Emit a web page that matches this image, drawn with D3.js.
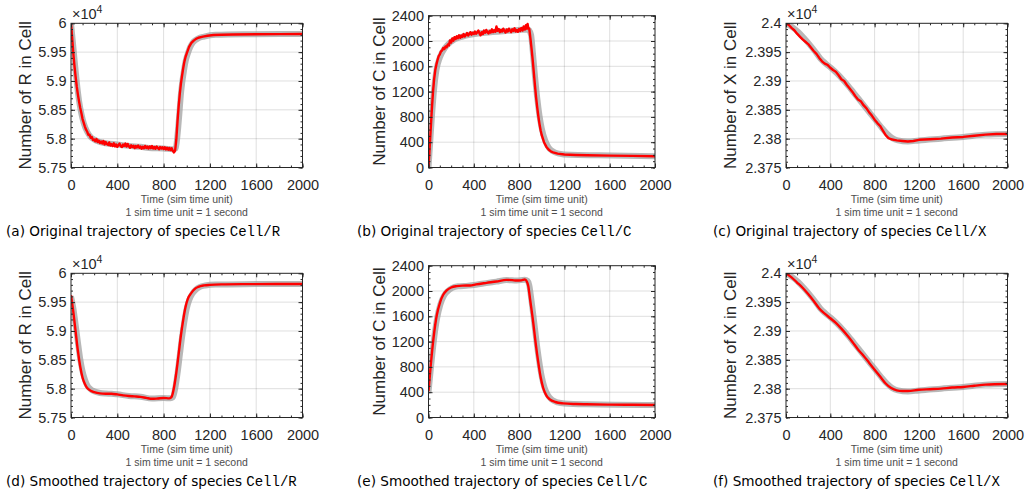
<!DOCTYPE html>
<html>
<head>
<meta charset="utf-8">
<script src="https://cdn.jsdelivr.net/npm/d3@7"></script>
<style>
  body { margin: 0; background: #fff; }
  svg { display: block; }
  .tick text { font-family: "Liberation Sans", Arial, sans-serif; font-size: 14.5px; fill: #262626; }
  .ylab { font-family: "Liberation Sans", Arial, sans-serif; font-size: 17px; fill: #262626; }
  .xlab { font-family: "Liberation Sans", Arial, sans-serif; font-size: 10.5px; fill: #4d4d4d; }
  .cap { font-family: "DejaVu Sans", sans-serif; font-size: 13.6px; fill: #000; }
  .cap .tt { font-family: "Liberation Mono", "DejaVu Sans Mono", monospace; font-size: 14px; }
</style>
</head>
<body>
<svg id="svg" width="1028" height="497"></svg>
<script>
// ---- data (time in sim time units, counts of molecules) ----
var xTicks = [0, 400, 800, 1200, 1600, 2000];
var rTicks = [57500, 58000, 58500, 59000, 59500, 60000];
var cTicks = [0, 400, 800, 1200, 1600, 2000, 2400];
var xSpTicks = [23750, 23800, 23850, 23900, 23950, 24000];

// (a) original R, red
var rawRTime = [0, 10, 20, 30, 40, 50, 60, 70, 80, 90, 100, 110, 120, 130, 140, 150, 160, 170, 180, 190,
  200, 210, 220, 230, 240, 250, 260, 270, 280, 290, 300, 310, 320, 330, 340, 350, 360, 370, 380, 390,
  400, 410, 420, 430, 440, 450, 460, 470, 480, 490, 500, 510, 520, 530, 540, 550, 560, 570, 580, 590,
  600, 610, 620, 630, 640, 650, 660, 670, 680, 690, 700, 710, 720, 730, 740, 750, 760, 770, 780, 790,
  800, 810, 820, 830, 840, 850, 860, 870, 880, 890, 895, 900, 910, 920, 930, 940, 950, 960, 970, 980,
  990, 1000, 1020, 1040, 1060, 1080, 1100, 1140, 1180, 1230, 1300, 1400, 1600, 1800, 2000];
var rawRVal = [60000, 59750, 59480, 59260, 59070, 58900, 58760, 58640, 58530, 58440, 58340, 58275, 58210, 58155, 58120, 58065, 58070, 58015, 58030, 57975,
  57985, 57955, 57995, 57940, 57966, 57925, 57952, 57918, 57960, 57900, 57942, 57908, 57892, 57935, 57880, 57906, 57872, 57920, 57866, 57897,
  57858, 57889, 57914, 57867, 57854, 57899, 57874, 57916, 57862, 57908, 57868, 57842, 57884, 57854, 57878, 57836, 57872, 57848, 57881, 57841,
  57864, 57825, 57860, 57834, 57874, 57838, 57862, 57829, 57866, 57836, 57872, 57831, 57856, 57824, 57863, 57838, 57816, 57854, 57828, 57852,
  57821, 57850, 57814, 57844, 57808, 57839, 57802, 57832, 57786, 57762, 57775, 57800, 57990, 58290, 58560, 58780, 58960, 59100, 59230, 59340,
  59420, 59480, 59590, 59660, 59700, 59730, 59750, 59770, 59785, 59797, 59802, 59806, 59810, 59812, 59814];
var rawRGrayTime = [0, 15, 30, 50, 70, 90, 110, 140, 170, 200, 300, 400, 500, 600, 700, 800, 880, 905, 920, 935,
  950, 960, 970, 990, 1010, 1030, 1050, 1070, 1100, 1150, 1250, 1500, 2000];
var rawRGrayVal = [60000, 59700, 59380, 58980, 58650, 58430, 58270, 58120, 58030, 57985, 57920, 57900, 57875, 57858, 57835, 57830, 57815, 57830, 58060, 58400,
  58780, 58960, 59100, 59340, 59480, 59590, 59660, 59700, 59740, 59770, 59800, 59810, 59815];

// (b) original C
var rawCTime = [0, 10, 20, 30, 40, 50, 60, 70, 80, 90, 100, 110, 120, 130, 140, 150, 160, 170, 180, 190,
  200, 210, 220, 230, 240, 250, 260, 270, 280, 290, 300, 310, 320, 330, 340, 350, 360, 370, 380, 390,
  400, 410, 420, 430, 440, 450, 460, 470, 480, 490, 500, 510, 520, 530, 540, 550, 560, 570, 580, 590,
  600, 610, 620, 630, 640, 650, 660, 670, 680, 690, 700, 710, 720, 730, 740, 750, 760, 770, 780, 790,
  800, 810, 820, 830, 840, 850, 860, 870, 875, 880, 890, 900, 910, 920, 930, 940, 950, 960, 970, 980,
  990, 1000, 1020, 1040, 1060, 1080, 1100, 1140, 1200, 1300, 1400, 1600, 1800, 2000];
var rawCVal = [0, 300, 620, 930, 1200, 1400, 1540, 1630, 1700, 1760, 1790, 1835, 1850, 1890, 1872, 1915, 1900, 1945, 1930, 2010,
  1975, 2040, 2005, 2060, 2030, 2075, 2045, 2090, 2050, 2085, 2065, 2110, 2070, 2095, 2125, 2085, 2110, 2140, 2100, 2130,
  2110, 2150, 2115, 2135, 2165, 2120, 2090, 2140, 2110, 2165, 2130, 2175, 2140, 2120, 2160, 2135, 2185, 2140, 2170, 2145,
  2230, 2160, 2190, 2140, 2175, 2150, 2195, 2160, 2135, 2180, 2150, 2195, 2165, 2140, 2185, 2160, 2200, 2150, 2175, 2145,
  2190, 2160, 2205, 2165, 2230, 2180, 2250, 2195, 2270, 2215, 2190, 2040, 1880, 1700, 1500, 1300, 1110, 950, 810, 690,
  590, 510, 400, 330, 285, 255, 240, 220, 205, 198, 193, 188, 183, 179];
var rawCGrayTime = [0, 15, 30, 50, 70, 100, 150, 200, 300, 500, 700, 880, 905, 920, 940, 960, 980, 1000, 1030, 1060,
  1100, 1150, 1250, 1500, 2000];
var rawCGrayVal = [0, 400, 800, 1250, 1540, 1740, 1900, 1990, 2070, 2130, 2160, 2180, 2100, 1850, 1450, 1100, 820, 620, 430, 320,
  255, 220, 200, 192, 179];

// (c) original X
var rawXTime = [0, 25, 50, 75, 100, 125, 150, 175, 200, 225, 250, 275, 300, 325, 350, 375, 400, 425, 450, 475,
  500, 525, 550, 575, 600, 625, 650, 675, 700, 725, 750, 775, 800, 825, 850, 875, 900, 925, 950, 975,
  1000, 1050, 1100, 1150, 1200, 1300, 1400, 1500, 1600, 1700, 1800, 1900, 2000];
var rawXVal = [24000, 23997, 23992, 23988, 23982, 23977, 23972, 23968, 23964, 23958, 23952, 23947, 23940, 23934, 23930, 23928, 23923, 23919, 23916, 23910,
  23903, 23900, 23893, 23887, 23881, 23874, 23868, 23865, 23858, 23853, 23846, 23840, 23833, 23827, 23822, 23814, 23806, 23801, 23799, 23798,
  23797, 23796, 23795, 23796, 23798, 23799, 23800, 23802, 23803, 23805, 23807, 23808, 23808];
var grayXTime = [0, 60, 110, 160, 210, 260, 310, 360, 410, 460, 510, 560, 610, 660, 710, 760, 810, 860, 910, 960,
  1010, 1100, 1200, 1400, 1600, 1800, 2000];
var grayXVal = [24000, 23993, 23985, 23975, 23964, 23952, 23939, 23930, 23922, 23913, 23903, 23892, 23880, 23868, 23856, 23844, 23832, 23820, 23809, 23801,
  23797, 23795, 23797, 23800, 23803, 23807, 23808];

// (d) smoothed R
var smRTime = [0, 20, 40, 60, 80, 100, 120, 140, 170, 200, 250, 300, 350, 400, 450, 500, 550, 600, 650, 700,
  750, 800, 850, 870, 890, 910, 930, 950, 970, 990, 1010, 1040, 1070, 1100, 1150, 1200, 1300, 1500, 2000];
var smRVal = [59620, 59330, 58990, 58650, 58380, 58190, 58080, 58010, 57965, 57940, 57918, 57913, 57912, 57900, 57883, 57872, 57866, 57858, 57840, 57824,
  57830, 57838, 57832, 57860, 58020, 58280, 58600, 58930, 59200, 59420, 59560, 59660, 59730, 59765, 59790, 59800, 59808, 59812, 59815];
var smRGrayTime = [0, 20, 40, 60, 80, 100, 120, 140, 170, 200, 250, 300, 350, 400, 500, 600, 700, 800, 860, 880,
  900, 920, 940, 960, 980, 1000, 1020, 1050, 1080, 1110, 1160, 1250, 1500, 2000];
var smRGrayVal = [59600, 59400, 59110, 58800, 58510, 58300, 58160, 58060, 57990, 57955, 57925, 57915, 57912, 57902, 57874, 57860, 57828, 57838, 57832, 57850,
  58000, 58260, 58580, 58900, 59170, 59390, 59530, 59650, 59720, 59760, 59788, 59805, 59812, 59815];

// (e) smoothed C
var smCTime = [0, 20, 44, 73, 103, 130, 161, 200, 249, 300, 367, 420, 513, 600, 689, 740, 777, 820, 851, 868,
  880, 900, 924, 946, 968, 990, 1012, 1040, 1071, 1120, 1188, 1300, 1393, 1600, 1800, 2000];
var smCVal = [417, 830, 1252, 1617, 1826, 1940, 2009, 2055, 2077, 2085, 2087, 2105, 2129, 2150, 2176, 2172, 2165, 2168, 2181, 2150,
  2087, 1830, 1513, 1180, 887, 640, 470, 350, 287, 245, 224, 213, 209, 204, 201, 198];
var smCGrayTime = [0, 20, 45, 75, 105, 135, 165, 210, 260, 350, 420, 510, 600, 690, 780, 850, 875, 890, 910, 935,
  958, 980, 1002, 1025, 1055, 1090, 1140, 1200, 1400, 2000];
var smCGrayVal = [400, 760, 1180, 1560, 1790, 1920, 1990, 2050, 2075, 2085, 2100, 2125, 2148, 2172, 2165, 2178, 2160, 2090, 1840, 1480,
  1140, 860, 630, 470, 350, 280, 240, 222, 209, 198];

// (f) smoothed X
var smXTime = [0, 50, 100, 150, 200, 250, 300, 350, 400, 450, 500, 550, 600, 650, 700, 750, 800, 850, 900, 950,
  1000, 1050, 1100, 1200, 1300, 1400, 1500, 1600, 1700, 1800, 2000];
var smXVal = [24000, 23993, 23984, 23975, 23964, 23952, 23939, 23930, 23922, 23914, 23904, 23893, 23881, 23868, 23857, 23845, 23833, 23821, 23809, 23801,
  23797, 23796, 23796, 23798, 23799, 23800, 23802, 23803, 23805, 23807, 23808];

function pts(t, v) { return t.map(function(d, i) { return [d, v[i]]; }); }

var species = {
  R: { ticks: rTicks, exp: true, labDx: 46, top: 23.3 },
  C: { ticks: cTicks, exp: false, labDx: 50, top: 15.7 },
  X: { ticks: xSpTicks, exp: true, labDx: 56, top: 23.3 }
};
var cols = [{ l: 71, r: 302.5 }, { l: 428.5, r: 655 }, { l: 786, r: 1007.5 }];
var capX = [6, 357, 713];

var panels = [
  { col: 0, row: 0, sp: "R", letter: "a", kind: "Original", red: pts(rawRTime, rawRVal), gray: pts(rawRGrayTime, rawRGrayVal), smooth: false },
  { col: 1, row: 0, sp: "C", letter: "b", kind: "Original", red: pts(rawCTime, rawCVal), gray: pts(rawCGrayTime, rawCGrayVal), smooth: false },
  { col: 2, row: 0, sp: "X", letter: "c", kind: "Original", red: pts(rawXTime, rawXVal), gray: pts(grayXTime, grayXVal), smooth: false },
  { col: 0, row: 1, sp: "R", letter: "d", kind: "Smoothed", red: pts(smRTime, smRVal), gray: pts(smRGrayTime, smRGrayVal), smooth: true },
  { col: 1, row: 1, sp: "C", letter: "e", kind: "Smoothed", red: pts(smCTime, smCVal), gray: pts(smCGrayTime, smCGrayVal), smooth: true },
  { col: 2, row: 1, sp: "X", letter: "f", kind: "Smoothed", red: pts(smXTime, smXVal), gray: pts(grayXTime, grayXVal), smooth: true }
];

var svg = d3.select("#svg");
var axisCol = "#262626";

panels.forEach(function(p, k) {
  var s = species[p.sp];
  var c = cols[p.col];
  var dy = p.row * 250;
  var top = s.top + dy, bottom = 167.5 + dy;
  var w = c.r - c.l, h = bottom - top;

  var x = d3.scaleLinear().domain([0, 2000]).range([0, w]);
  var y = d3.scaleLinear().domain(d3.extent(s.ticks)).range([h, 0]);

  var g = svg.append("g").attr("transform", "translate(" + c.l + "," + top + ")");

  // grid
  g.append("g").selectAll("line").data(xTicks.slice(1, -1)).enter().append("line")
    .attr("x1", x).attr("x2", x).attr("y1", 0).attr("y2", h)
    .attr("stroke", axisCol).attr("stroke-opacity", 0.15);
  g.append("g").selectAll("line").data(s.ticks.slice(1, -1)).enter().append("line")
    .attr("y1", y).attr("y2", y).attr("x1", 0).attr("x2", w)
    .attr("stroke", axisCol).attr("stroke-opacity", 0.15);

  // lines
  g.append("clipPath").attr("id", "clip" + k).append("rect").attr("width", w).attr("height", h);
  var line = d3.line().x(function(d) { return x(d[0]); }).y(function(d) { return y(d[1]); })
    .curve(p.smooth ? d3.curveMonotoneX : d3.curveLinear);
  var grayLine = d3.line().x(function(d) { return x(d[0]); }).y(function(d) { return y(d[1]); })
    .curve(d3.curveMonotoneX);
  var lg = g.append("g").attr("clip-path", "url(#clip" + k + ")");
  lg.append("path").attr("d", grayLine(p.gray)).attr("fill", "none")
    .attr("stroke", "#9a9a9a").attr("stroke-opacity", 0.7).attr("stroke-width", 6)
    .attr("stroke-linejoin", "round");
  lg.append("path").attr("d", line(p.red)).attr("fill", "none")
    .attr("stroke", "#ff0000").attr("stroke-width", 2.4).attr("stroke-linejoin", "round");

  // axes
  var fmt = s.exp ? function(v) { return String(+(v / 1e4).toFixed(3)); } : function(v) { return String(v); };
  function styleAxis(sel) {
    sel.select(".domain").remove();
    sel.selectAll(".tick line").attr("stroke", axisCol);
  }
  g.append("g").attr("transform", "translate(0," + h + ")")
    .call(d3.axisBottom(x).tickValues(xTicks).tickSize(-4).tickPadding(12).tickFormat(String)).call(styleAxis);
  g.append("g").attr("transform", "translate(0," + h + ")")
    .call(d3.axisBottom(x).ticks(20).tickSize(-2).tickFormat("")).call(styleAxis);
  g.append("g").call(d3.axisTop(x).tickValues(xTicks).tickSize(-4).tickFormat("")).call(styleAxis);
  g.append("g").call(d3.axisTop(x).ticks(20).tickSize(-2).tickFormat("")).call(styleAxis);
  g.append("g").call(d3.axisLeft(y).tickValues(s.ticks).tickSize(-4).tickPadding(4.5).tickFormat(fmt)).call(styleAxis);
  g.append("g").call(d3.axisLeft(y).ticks(24).tickSize(-2).tickFormat("")).call(styleAxis);
  g.append("g").attr("transform", "translate(" + w + ",0)")
    .call(d3.axisRight(y).tickValues(s.ticks).tickSize(-4).tickFormat("")).call(styleAxis);
  g.append("g").attr("transform", "translate(" + w + ",0)")
    .call(d3.axisRight(y).ticks(24).tickSize(-2).tickFormat("")).call(styleAxis);

  g.append("rect").attr("width", w).attr("height", h).attr("fill", "none")
    .attr("stroke", axisCol).attr("stroke-width", 1);

  // exponent
  if (s.exp) {
    var e = g.append("text").attr("class", "ylab").attr("x", 1).attr("y", -4).style("font-size", "14.5px");
    e.append("tspan").text("\u00d710");
    e.append("tspan").attr("dy", -6).style("font-size", "10.5px").text("4");
  }

  // labels
  g.append("text").attr("class", "ylab").attr("text-anchor", "middle")
    .attr("transform", "translate(" + (-s.labDx + 6) + "," + (h / 2) + ") rotate(-90)")
    .text("Number of " + p.sp + " in Cell");
  g.append("text").attr("class", "xlab").attr("text-anchor", "middle")
    .attr("x", w / 2).attr("y", 203.5 + dy - top).text("Time (sim time unit)");
  g.append("text").attr("class", "xlab").attr("text-anchor", "middle")
    .attr("x", w / 2).attr("y", 216 + dy - top).text("1 sim time unit = 1 second");

  var cap = svg.append("text").attr("class", "cap").attr("x", capX[p.col]).attr("y", 236 + dy);
  cap.append("tspan").text("(" + p.letter + ") " + p.kind + " trajectory of species ");
  cap.append("tspan").attr("class", "tt").text("Cell/" + p.sp);
});
</script>
</body>
</html>
